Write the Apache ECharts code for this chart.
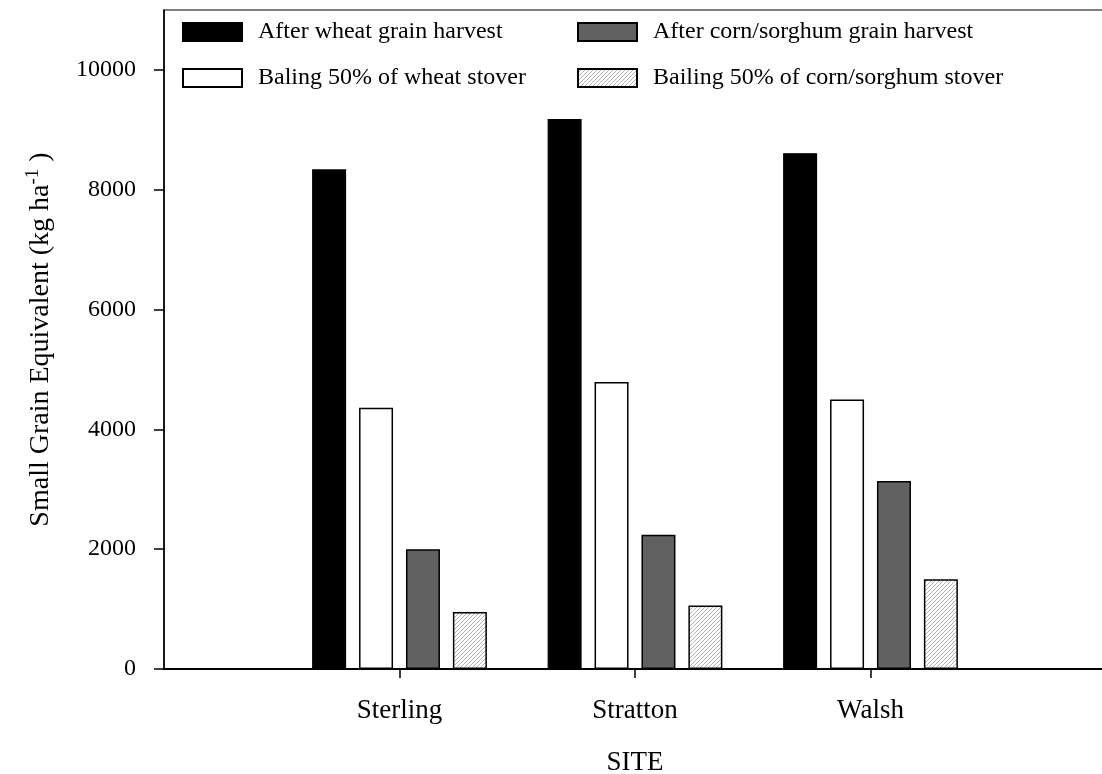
<!DOCTYPE html>
<html>
<head>
<meta charset="utf-8">
<title>Small Grain Equivalent by Site</title>
<script src="https://cdn.jsdelivr.net/npm/echarts@6/dist/echarts.min.js"></script>
<style>
  html, body { margin: 0; padding: 0; background: #fff; }
  #chart { width: 1102px; height: 774px; }
</style>
</head>
<body>
<div id="chart"></div>
<script>
// Sites along the x axis (placed at 1, 2, 3 on a value axis)
const sites = ['Sterling', 'Stratton', 'Walsh'];

// Small grain equivalent, kg/ha
const afterWheatGrain = [8340, 9180, 8610];
const balingWheatStover = [4360, 4790, 4500];
const afterCornGrain = [2000, 2240, 3140];
const balingCornStover = [950, 1060, 1500];

const yTicks = [0, 2000, 4000, 6000, 8000, 10000];

const FONT = '"Liberation Serif", "Times New Roman", serif';

// Fine diagonal hatch used for the stover-baling bars
function hatchPattern() {
  const c = document.createElement('canvas');
  c.width = 4; c.height = 4;
  const g = c.getContext('2d');
  g.fillStyle = '#fff';
  g.fillRect(0, 0, 4, 4);
  g.strokeStyle = '#9a9a9a';
  g.lineWidth = 0.75;
  g.beginPath();
  g.moveTo(0, 4); g.lineTo(4, 0);
  g.moveTo(-1, 1); g.lineTo(1, -1);
  g.moveTo(3, 5); g.lineTo(5, 3);
  g.stroke();
  return { image: c, repeat: 'repeat' };
}

const toPoints = vals => vals.map((v, i) => [i + 1, v]);

const names = [
  'After wheat grain harvest',
  'Baling 50% of wheat stover',
  'After corn/sorghum grain harvest',
  'Bailing 50% of corn/sorghum stover'
];

const styles = [
  { color: '#000', borderColor: '#000', borderWidth: 1.2 },
  { color: '#fff', borderColor: '#000', borderWidth: 1.5 },
  { color: '#616161', borderColor: '#000', borderWidth: 1.5 },
  { color: hatchPattern(), borderColor: '#000', borderWidth: 1.5 }
];

const values = [afterWheatGrain, balingWheatStover, afterCornGrain, balingCornStover];

const legendText = { fontFamily: FONT, fontSize: 24, color: '#000', padding: [0, 0, 0, 11] };

const chart = echarts.init(document.getElementById('chart'), null, { renderer: 'canvas' });

chart.setOption({
  backgroundColor: '#fff',
  animation: false,
  textStyle: { fontFamily: FONT },
  grid: {
    left: 164, top: 10, width: 942, bottom: 105,
    outerBoundsMode: 'none', containLabel: false,
    show: true, borderColor: '#000', borderWidth: 1.2, backgroundColor: 'transparent'
  },
  legend: [
    {
      data: [names[0], names[1]],
      orient: 'vertical', left: 182, top: 20, padding: 0,
      icon: 'rect', itemWidth: 59, itemHeight: 18, itemGap: 22,
      textStyle: legendText, selectedMode: false
    },
    {
      data: [names[2], names[3]],
      orient: 'vertical', left: 577, top: 20, padding: 0,
      icon: 'rect', itemWidth: 59, itemHeight: 18, itemGap: 22,
      textStyle: legendText, selectedMode: false
    }
  ],
  xAxis: {
    type: 'value', min: 0, max: 4,
    name: 'SITE', nameLocation: 'middle', nameGap: 80,
    nameTextStyle: { fontFamily: FONT, fontSize: 27, color: '#000' },
    splitLine: { show: false },
    axisLine: { show: true, lineStyle: { color: '#000', width: 2 } },
    axisTick: { show: true, length: 9, customValues: [1, 2, 3], lineStyle: { color: '#000', width: 1.5 } },
    axisLabel: {
      customValues: [1, 2, 3], margin: 28,
      formatter: v => sites[v - 1] || '',
      fontFamily: FONT, fontSize: 27, color: '#000'
    }
  },
  yAxis: {
    type: 'value', min: 0, max: 11000,
    name: '{n|Small Grain Equivalent (kg ha}{s|-1}{n| )}',
    nameLocation: 'middle', nameGap: 106, nameRotate: 90,
    nameTextStyle: {
      rich: {
        n: { fontFamily: FONT, fontSize: 28, color: '#000', lineHeight: 34 },
        s: { fontFamily: FONT, fontSize: 19, color: '#000', lineHeight: 16, verticalAlign: 'top' }
      }
    },
    splitLine: { show: false },
    axisLine: { show: true, lineStyle: { color: '#000', width: 1.5 } },
    axisTick: { show: true, length: 10, customValues: yTicks, lineStyle: { color: '#000', width: 1.5 } },
    axisLabel: {
      customValues: yTicks, margin: 28,
      formatter: v => String(v),
      fontFamily: FONT, fontSize: 24, color: '#000'
    }
  },
  series: values.map((vals, i) => ({
    name: names[i],
    type: 'bar',
    barWidth: 34,
    barGap: '38%',
    data: toPoints(vals),
    itemStyle: styles[i],
    emphasis: { disabled: true }
  }))
});
</script>
</body>
</html>
